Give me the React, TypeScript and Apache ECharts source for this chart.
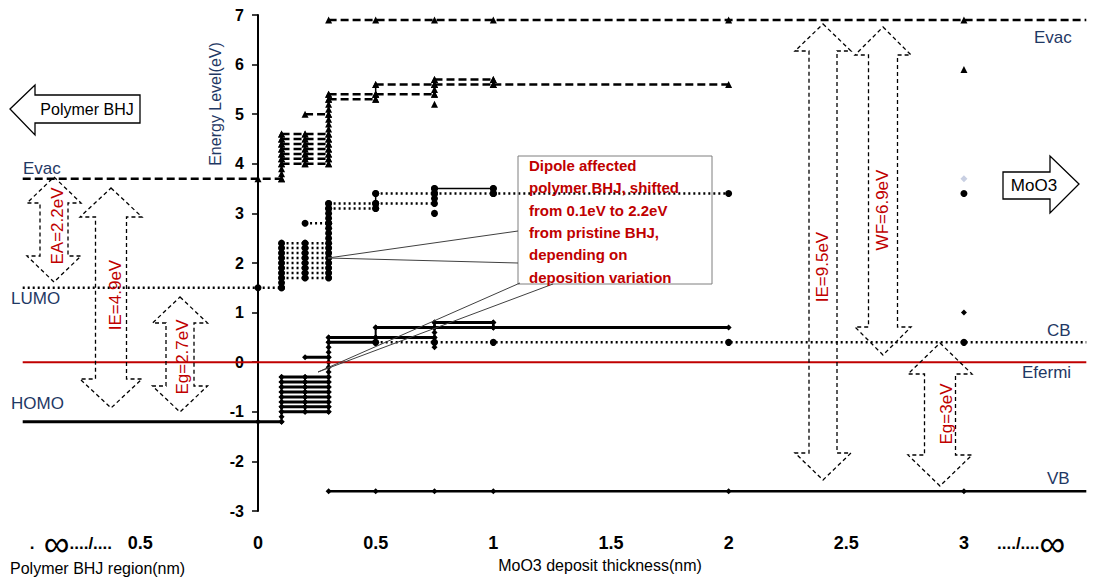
import React, { useEffect, useRef } from 'react';
import * as echarts from 'echarts';

// ---------- axis ----------
const xTickValues = [-0.5, 0, 0.5, 1, 1.5, 2, 2.5, 3];
const xTickLabels = ['0.5', '0', '0.5', '1', '1.5', '2', '2.5', '3'];
const xMin = -1;
const xMax = 3.52;
const yMin = -3;
const yMax = 7;

// ---------- pristine polymer BHJ (x: -1 -> 0.1 nm) ----------
const pristineX = [-1, 0, 0.1];
const pristineEvac = 3.7;
const pristineLumo = 1.5;
const pristineHomo = -1.2;

// ---------- dipole-shifted levels, 0.1 -> 0.3 nm ----------
const shiftX = [0.1, 0.2, 0.3];
const evacShift = [4.0, 4.1, 4.2, 4.3, 4.4, 4.5, 4.6];
const lumoShift = [1.7, 1.8, 1.9, 2.0, 2.1, 2.2, 2.3, 2.4];
const homoShift = [-1.0, -0.9, -0.8, -0.7, -0.6, -0.5, -0.4, -0.3];

// step segments [x0, x1, level]
const evacSegs = [[0.2, 0.3, 5.0], [0.3, 0.5, 5.4], [0.3, 0.5, 5.3], [0.5, 0.75, 5.6], [0.5, 0.75, 5.4], [0.75, 1, 5.7], [0.75, 1, 5.6], [1, 2, 5.6]];
const lumoSegs = [[0.2, 0.3, 2.8], [0.3, 0.5, 3.2], [0.3, 0.5, 3.1], [0.5, 0.75, 3.4], [0.5, 0.75, 3.2], [0.75, 1, 3.4], [1, 2, 3.4]];
const lumoSolidSegs = [[0.75, 1, 3.5]];
const homoSegs = [[0.2, 0.3, 0.1], [0.3, 0.5, 0.5], [0.3, 0.5, 0.4], [0.5, 0.75, 0.7], [0.5, 0.75, 0.5], [0.75, 1, 0.8], [0.75, 1, 0.7], [1, 2, 0.7]];

// stacked points at each thickness
const evacCol01 = [3.7, 3.8, 3.9, 4.0, 4.1, 4.2, 4.3, 4.4, 4.5, 4.6];
const evacCol02 = [4.0, 4.1, 4.2, 4.3, 4.4, 4.5, 4.6];
const evacCol03 = [4.0, 4.1, 4.2, 4.3, 4.4, 4.5, 4.6, 4.7, 4.8, 4.9, 5.0, 5.1, 5.2, 5.3, 5.4];
const evacCol05 = [5.3, 5.4, 5.6];
const evacCol075 = [5.4, 5.5, 5.6, 5.7];
const evacCol1 = [5.6, 5.7];
const lumoCol01 = [1.5, 1.6, 1.7, 1.8, 1.9, 2.0, 2.1, 2.2, 2.3, 2.4];
const lumoCol02 = [1.7, 1.8, 1.9, 2.0, 2.1, 2.2, 2.3, 2.4];
const lumoCol03 = [1.7, 1.8, 1.9, 2.0, 2.1, 2.2, 2.3, 2.4, 2.5, 2.6, 2.7, 2.8, 2.9, 3.0, 3.1, 3.2];
const lumoCol05 = [3.1, 3.2, 3.4];
const lumoCol075 = [3.3, 3.4, 3.5];
const lumoCol1 = [3.4, 3.5];
const homoCol01 = [-1.2, -1.1, -1.0, -0.9, -0.8, -0.7, -0.6, -0.5, -0.4, -0.3];
const homoCol02 = [-1.0, -0.9, -0.8, -0.7, -0.6, -0.5, -0.4, -0.3];
const homoCol03 = [-1.0, -0.9, -0.8, -0.7, -0.6, -0.5, -0.4, -0.3, -0.2, -0.1, 0.0, 0.1, 0.2, 0.3, 0.4, 0.5];
const homoCol05 = [0.4, 0.5, 0.7];
const homoCol075 = [0.3, 0.4, 0.5, 0.6, 0.7, 0.8];
const homoCol1 = [0.7, 0.8];

// ---------- MoO3 levels ----------
const moo3X = [0.3, 0.5, 0.75, 1, 2, 3];
const cbX = [0.5, 0.75, 1, 2, 3];
const moo3Evac = 6.9;
const moo3CB = 0.4;
const moo3VB = -2.6;
const fermi = 0;

// isolated points [x, y]
const extraTriangles = [[0.75, 5.2], [3, 5.9]];
const extraCircles = [[0.75, 3.0], [3, 3.4]];
const extraDiamonds = [[3, 1.0]];
const paleDiamonds = [[3, 3.7]];

// ---------- styles ----------
const FONT = "'Liberation Sans', Arial, sans-serif";
const NAVY = '#1F3864';
const RED = '#C00000';
const DASH = [8, 4];
const DOT = [2, 3];
const GRID_LEFT = 22.7;
const GRID_W = 1063.6;

type Pt = number[] | { value: number[]; symbol: string };
const line = (data: Pt[], symbol: string, size: number, type: any, width: number, color = '#000', z = 2) => ({
  type: 'line',
  data,
  symbol,
  symbolSize: size,
  showSymbol: symbol !== 'none',
  silent: true,
  z,
  lineStyle: { color, width, type, cap: 'butt' },
  itemStyle: { color },
});
const dots = (data: number[][], symbol: string, size: number, color = '#000') => ({
  ...line(data, symbol, size, 'solid', 0, color),
  lineStyle: { width: 0, opacity: 0 },
});
const noSym = (x: number, y: number) => ({ value: [x, y], symbol: 'none' });
const col = (x: number, ys: number[]) => ys.map((y) => [x, y]);
const segData = (s: number[]) => [[s[0], s[2]], [s[1], s[2]]];

function buildSeries() {
  const S: any[] = [];
  // Evac (dashed, triangles)
  S.push(line([noSym(pristineX[0], pristineEvac), [pristineX[1], pristineEvac], [pristineX[2], pristineEvac]], 'triangle', 7, DASH, 2.5));
  evacShift.forEach((l) => S.push(line(shiftX.map((x) => [x, l]), 'triangle', 7, DASH, 2.5)));
  evacSegs.forEach((s) => S.push(line(segData(s), 'triangle', 7, DASH, 2.5)));
  [[0.1, evacCol01], [0.2, evacCol02], [0.3, evacCol03], [0.5, evacCol05], [0.75, evacCol075], [1, evacCol1]].forEach(([x, ys]: any) =>
    S.push(line(col(x, ys), 'triangle', 7, 'solid', 1.5)));
  S.push(line([...moo3X.map((x) => [x, moo3Evac]), noSym(xMax, moo3Evac)], 'triangle', 7, DASH, 2.5));
  S.push(dots(extraTriangles, 'triangle', 7));

  // LUMO / CB (dotted, circles)
  S.push(line([noSym(pristineX[0], pristineLumo), [pristineX[1], pristineLumo], [pristineX[2], pristineLumo]], 'circle', 7, DOT, 2.5));
  lumoShift.forEach((l) => S.push(line(shiftX.map((x) => [x, l]), 'circle', 6, DOT, 2.5)));
  lumoSegs.forEach((s) => S.push(line(segData(s), 'circle', 7, DOT, 2.5)));
  lumoSolidSegs.forEach((s) => S.push(line(segData(s), 'circle', 7, 'solid', 1.5)));
  [[0.1, lumoCol01], [0.2, lumoCol02], [0.3, lumoCol03], [0.5, lumoCol05], [0.75, lumoCol075], [1, lumoCol1]].forEach(([x, ys]: any) =>
    S.push(line(col(x, ys), 'circle', 7, 'solid', 1.5)));
  S.push(line([...cbX.map((x) => [x, moo3CB]), noSym(xMax, moo3CB)], 'circle', 7, DOT, 2.5));
  S.push(dots(extraCircles, 'circle', 7));

  // HOMO / VB (solid, diamonds)
  S.push(line([noSym(pristineX[0], pristineHomo), [pristineX[1], pristineHomo], [pristineX[2], pristineHomo]], 'diamond', 6, 'solid', 3));
  homoShift.forEach((l) => S.push(line(shiftX.map((x) => [x, l]), 'diamond', 6, 'solid', 3)));
  homoSegs.forEach((s) => S.push(line(segData(s), 'diamond', 6, 'solid', 3)));
  [[0.1, homoCol01], [0.2, homoCol02], [0.3, homoCol03], [0.5, homoCol05], [0.75, homoCol075], [1, homoCol1]].forEach(([x, ys]: any) =>
    S.push(line(col(x, ys), 'diamond', 6, 'solid', 2)));
  S.push(line([...moo3X.map((x) => [x, moo3VB]), noSym(xMax, moo3VB)], 'diamond', 6, 'solid', 2.5));
  S.push(dots(extraDiamonds, 'diamond', 6));
  S.push(dots(paleDiamonds, 'diamond', 7, '#C8CFE2'));

  // Fermi level
  S.push(line([noSym(xMin, fermi), noSym(xMax, fermi)], 'none', 0, 'solid', 2, RED, 4));
  return S;
}

// ---------- annotations (pixel layout) ----------
function dblArrow(cx: number, t: number, b: number, hw: number, sw: number, hh: number) {
  return [[cx, t], [cx + hw, t + hh], [cx + sw, t + hh], [cx + sw, b - hh], [cx + hw, b - hh], [cx, b],
    [cx - hw, b - hh], [cx - sw, b - hh], [cx - sw, t + hh], [cx - hw, t + hh]];
}
const arrowSpecs = [
  { cx: 54, t: 177, b: 282, hw: 27, sw: 14, hh: 26, label: 'EA=2.2eV', lx: 57, ly: 226 },
  { cx: 111, t: 188, b: 408, hw: 31, sw: 15.5, hh: 29, label: 'IE=4.9eV', lx: 115, ly: 295 },
  { cx: 180, t: 297, b: 412, hw: 27.5, sw: 14, hh: 26, label: 'Eg=2.7eV', lx: 182, ly: 357 },
  { cx: 823, t: 24, b: 480, hw: 28, sw: 14, hh: 27, label: 'IE=9.5eV', lx: 822, ly: 267 },
  { cx: 883, t: 27, b: 355, hw: 28, sw: 14.5, hh: 28, label: 'WF=6.9eV', lx: 882, ly: 210 },
  { cx: 940, t: 343, b: 486, hw: 32, sw: 15.5, hh: 31, label: 'Eg=3eV', lx: 946, ly: 414 },
];
const navyLabels = [
  { text: 'Evac', x: 23, y: 168 },
  { text: 'LUMO', x: 11, y: 298 },
  { text: 'HOMO', x: 11, y: 403 },
  { text: 'Evac', x: 1034, y: 37 },
  { text: 'CB', x: 1047, y: 330 },
  { text: 'Efermi', x: 1022, y: 372 },
  { text: 'VB', x: 1047, y: 478 },
];
const calloutText = 'Dipole affected\npolymer BHJ, shifted\nfrom 0.1eV to 2.2eV\nfrom pristine BHJ,\ndepending on\ndeposition variation';

function buildGraphic() {
  const g: any[] = [];
  arrowSpecs.forEach((a) => {
    g.push({ type: 'polygon', shape: { points: dblArrow(a.cx, a.t, a.b, a.hw, a.sw, a.hh) }, style: { fill: 'none', stroke: '#000', lineWidth: 1.3, lineDash: [4, 3] }, z: 10 });
    g.push({ type: 'text', x: a.lx, y: a.ly, rotation: Math.PI / 2, style: { text: a.label, fill: RED, fontSize: 17, fontFamily: FONT, align: 'center', verticalAlign: 'middle' }, z: 11 });
  });
  navyLabels.forEach((l) => g.push({ type: 'text', x: l.x, y: l.y, style: { text: l.text, fill: NAVY, fontSize: 17, fontFamily: FONT, align: 'left', verticalAlign: 'middle' }, z: 11 }));
  // y axis title
  g.push({ type: 'text', x: 215, y: 104, rotation: Math.PI / 2, style: { text: 'Energy Level(eV)', fill: NAVY, fontSize: 16, fontFamily: FONT, align: 'center', verticalAlign: 'middle' }, z: 11 });
  // block arrows
  g.push({ type: 'polygon', shape: { points: [[10, 109], [35, 85], [35, 95], [140, 95], [140, 123], [35, 123], [35, 135]] }, style: { fill: '#fff', stroke: '#000', lineWidth: 1.3 }, z: 10 });
  g.push({ type: 'text', x: 87, y: 109, style: { text: 'Polymer BHJ', fill: '#000', fontSize: 16, fontFamily: FONT, align: 'center', verticalAlign: 'middle' }, z: 11 });
  g.push({ type: 'polygon', shape: { points: [[1003, 172], [1050, 172], [1050, 156], [1079, 184], [1050, 213], [1050, 199], [1003, 199]] }, style: { fill: '#fff', stroke: '#000', lineWidth: 1.3 }, z: 10 });
  g.push({ type: 'text', x: 1034, y: 185, style: { text: 'MoO3', fill: '#000', fontSize: 17, fontFamily: FONT, align: 'center', verticalAlign: 'middle' }, z: 11 });
  // callout
  g.push({ type: 'rect', shape: { x: 518, y: 156, width: 194, height: 128 }, style: { fill: 'none', stroke: '#7F7F7F', lineWidth: 1 }, z: 10 });
  g.push({ type: 'polyline', shape: { points: [[518, 231], [328, 258], [518, 263]] }, style: { fill: 'none', stroke: '#404040', lineWidth: 1 }, z: 10 });
  g.push({ type: 'polyline', shape: { points: [[520, 283], [318, 372], [553, 284]] }, style: { fill: 'none', stroke: '#404040', lineWidth: 1 }, z: 10 });
  g.push({ type: 'text', x: 529, y: 154, style: { text: calloutText, fill: RED, fontSize: 15, fontWeight: 'bold', fontFamily: FONT, lineHeight: 22.4, align: 'left', verticalAlign: 'top' }, z: 11 });
  // x-axis extras
  g.push({ type: 'text', x: 112, y: 543, style: { text: '{a|.  }{b|∞}{a|..../....}', align: 'right', verticalAlign: 'middle', rich: { a: { fontSize: 17, fontWeight: 'bold', fontFamily: FONT, fill: '#000' }, b: { fontSize: 36, fontFamily: FONT, fill: '#000' } } }, z: 11 });
  g.push({ type: 'text', x: 997, y: 543, style: { text: '{a|..../....}{b|∞}', align: 'left', verticalAlign: 'middle', rich: { a: { fontSize: 17, fontWeight: 'bold', fontFamily: FONT, fill: '#000' }, b: { fontSize: 36, fontFamily: FONT, fill: '#000' } } }, z: 11 });
  g.push({ type: 'text', x: 10, y: 568, style: { text: 'Polymer BHJ region(nm)', fill: '#000', fontSize: 16, fontFamily: FONT, align: 'left', verticalAlign: 'middle' }, z: 11 });
  g.push({ type: 'text', x: 600, y: 565, style: { text: 'MoO3 deposit thickness(nm)', fill: '#000', fontSize: 16, fontFamily: FONT, align: 'center', verticalAlign: 'middle' }, z: 11 });
  return g;
}

export default function App() {
  const ref = useRef<HTMLDivElement>(null);
  useEffect(() => {
    if (!ref.current) return;
    const chart = echarts.init(ref.current, undefined, { renderer: 'svg' });
    // y axis sits at x = 0 (offset from the grid's left edge)
    const yOffset = -((0 - xMin) / (xMax - xMin)) * GRID_W;
    chart.setOption({
      animation: false,
      backgroundColor: '#fff',
      grid: { left: GRID_LEFT, top: 15, width: GRID_W, height: 496, containLabel: false, outerBoundsMode: 'none' },
      xAxis: {
        type: 'value', min: xMin, max: xMax, interval: 0.5,
        axisLine: { show: false, onZero: false }, axisTick: { show: false }, splitLine: { show: false },
        axisLabel: {
          margin: 23, color: '#000', fontSize: 18, fontWeight: 'bold', fontFamily: FONT,
          showMinLabel: true, showMaxLabel: true,
          formatter: (v: number) => {
            const i = xTickValues.findIndex((t) => Math.abs(t - v) < 1e-6);
            return i >= 0 ? xTickLabels[i] : '';
          },
        },
      },
      yAxis: {
        type: 'value', min: yMin, max: yMax, interval: 1, offset: yOffset,
        axisLine: { show: true, onZero: false, lineStyle: { color: '#000', width: 2 } },
        axisTick: { show: true, length: 6, lineStyle: { color: '#000', width: 1.5 } },
        splitLine: { show: false },
        axisLabel: { margin: 14, color: '#000', fontSize: 16, fontWeight: 'bold', fontFamily: FONT },
      },
      series: buildSeries(),
      graphic: buildGraphic(),
    });
    return () => chart.dispose();
  }, []);
  return <div ref={ref} style={{ position: 'fixed', left: 0, top: 0, width: 1093, height: 585, background: '#fff' }} />;
}
